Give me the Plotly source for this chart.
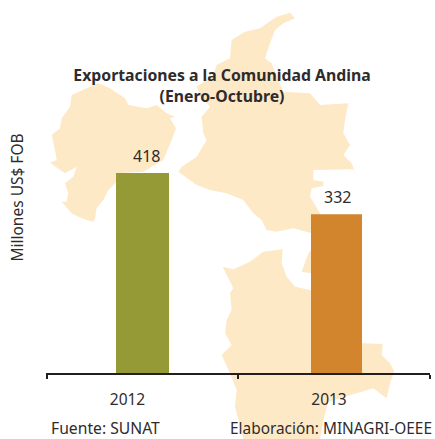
import plotly.graph_objects as go

W, H = 435, 439
years = [2012, 2013]
values = [418, 332]
bar_colors = ["#959a36", "#d2852d"]
bar_widths_px = [53, 51]
year_labels = ["2012", "2013"]
title_text = "Exportaciones a la Comunidad Andina<br>(Enero-Octubre)"
y_title = "Millones US$ FOB"
source_left = "Fuente: SUNAT"
source_right = "Elaboración: MINAGRI-OEEE"

TXT = "#2f2b2c"
FONT = "Noto Sans"
L, R, T, B = 46, 430, 22, 373
PX_PER_YEAR = 194.0
X0 = 142.5


def xd(px):
    return 2012 + (px - X0) / PX_PER_YEAR


# decorative backdrop map outline, traced in pixels (zoom x3 coordinates)
ecuador = [(295,250),(330,265),(375,295),(385,315),(440,325),(470,315),(500,340),(525,350),(510,355),(528,385),(515,420),(490,480),(430,515),(355,520),(350,545),(325,570),(310,600),(290,625),(285,655),(280,665),(260,660),(235,650),(215,640),(185,605),(200,605),(205,580),(195,550),(220,530),(230,500),(195,520),(150,488),(170,480),(165,450),(155,405),(180,385),(185,355),(210,320),(215,285),(260,265)]
colombia = [(870,38),(885,55),(850,70),(825,90),(810,130),(795,175),(815,190),(850,275),(930,280),(960,315),(1045,310),(1035,360),(1030,400),(1050,435),(1030,465),(1055,490),(1070,530),(1060,508),(940,510),(940,540),(970,545),(970,558),(935,565),(930,590),(960,640),(960,720),(925,760),(905,815),(935,820),(935,700),(880,685),(830,695),(800,690),(785,660),(760,640),(730,600),(680,580),(630,570),(590,555),(535,515),(545,500),(590,470),(620,420),(610,400),(605,350),(630,320),(600,285),(590,260),(640,225),(650,195),(690,175),(695,120),(735,95),(780,85),(830,50)]
bolivia = [(668,800),(700,808),(750,785),(790,755),(848,748),(845,790),(860,830),(885,860),(930,870),(1000,900),(1086,1030),(1148,1032),(1145,1065),(1170,1090),(1183,1115),(1170,1150),(1160,1195),(1120,1165),(985,1205),(970,1260),(960,1317),(730,1317),(705,1220),(710,1170),(690,1120),(665,1065),(695,1035),(675,1000),(680,960),(695,930),(690,880),(700,865)]


def path(pts):
    s = "M" + " L".join(f"{(x/3-L)/(R-L):.4f},{(B-y/3)/(B-T):.4f}" for x, y in pts)
    return s + " Z"


shapes = [dict(type="path", xref="paper", yref="paper", path=path(p), fillcolor="#fee9c6",
               line=dict(width=0), layer="below") for p in (ecuador, colombia, bolivia)]

value_xshift = [3.5, 0.5]
value_labels = [dict(text=str(v), x=yr, y=v, xref="x", yref="y", xanchor="center", yanchor="bottom",
                     xshift=dx, yshift=4, showarrow=False, font=dict(family=FONT, size=16, color=TXT))
                for yr, v, dx in zip(years, values, value_xshift)]

fig = go.Figure(go.Bar(
    x=years, y=values, width=[w / PX_PER_YEAR for w in bar_widths_px],
    marker=dict(color=bar_colors, line=dict(width=0)), hoverinfo="skip",
))
fig.update_layout(
    width=W, height=H, autosize=False, showlegend=False,
    margin=dict(l=L, r=W - R, t=T, b=H - B),
    paper_bgcolor="white", plot_bgcolor="rgba(0,0,0,0)", shapes=shapes,
    font=dict(family=FONT, color=TXT),
    title=dict(text=title_text, x=222 / W, xanchor="center", y=1 - 81 / H, yanchor="middle",
               font=dict(family=FONT, size=15.8, color=TXT, weight="bold")),
    annotations=value_labels + [
        dict(text=source_left, xref="paper", yref="paper", x=(49 - L) / (R - L), y=(B - 428.5) / (B - T),
             xanchor="left", yanchor="middle", showarrow=False, font=dict(family=FONT, size=15.7, color=TXT)),
        dict(text=source_right, xref="paper", yref="paper", x=(228 - L) / (R - L), y=(B - 428.5) / (B - T),
             xanchor="left", yanchor="middle", showarrow=False, font=dict(family=FONT, size=15.4, color=TXT)),
    ],
)
fig.update_xaxes(
    range=[xd(L), xd(R)], showgrid=False, zeroline=False, showline=True, linecolor="#231f20", linewidth=2,
    tickmode="array", tickvals=[xd(127.5), xd(329)], ticktext=year_labels, ticks="outside", ticklen=11,
    tickcolor="rgba(0,0,0,0)", tickfont=dict(family=FONT, size=15.5, color=TXT),
    minor=dict(tickmode="array", tickvals=[xd(46.5), xd(238), xd(429.5)], ticks="outside", ticklen=4,
               tickwidth=1.5, tickcolor="#231f20", showgrid=False),
)
fig.update_yaxes(
    range=[0, (B - T) / 0.4785], showgrid=False, zeroline=False, showline=False, ticks="", showticklabels=False,
    title=dict(text=y_title, standoff=17, font=dict(family=FONT, size=15.5, color=TXT)),
)
fig.write_html("out.html", config=dict(displayModeBar=False), post_script="document.body.style.margin='0';")
